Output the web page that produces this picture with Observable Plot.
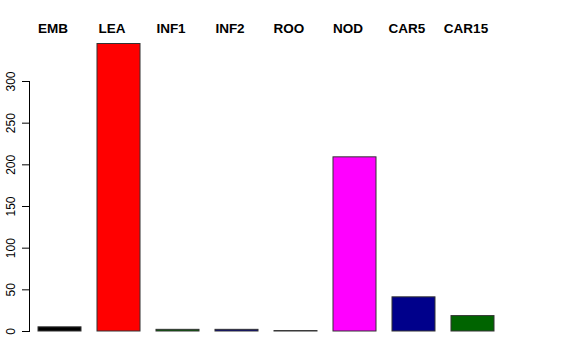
<!DOCTYPE html>
<html>
<head>
<meta charset="utf-8">
<script src="https://cdn.jsdelivr.net/npm/d3@7"></script>
<script src="https://cdn.jsdelivr.net/npm/@observablehq/plot@0.6"></script>
<style>
  body { margin: 0; background: #fff; }
  svg { font-family: "Liberation Sans", Arial, sans-serif; }
</style>
</head>
<body>
<div id="chart"></div>
<script>
const categories = ["EMB", "LEA", "INF1", "INF2", "ROO", "NOD", "CAR5", "CAR15"];
const values = [5, 345, 2, 2, 0.5, 209, 41, 18.5];
const colors = ["#000000", "#FF0000", "#006400", "#00008B", "#000000", "#FF00FF", "#00008B", "#006400"];
const yTicks = [0, 50, 100, 150, 200, 250, 300];

const data = categories.map((c, i) => ({cat: c, value: values[i], color: colors[i]}));

const chart = Plot.plot({
  width: 576,
  height: 360,
  marginTop: 81,
  marginBottom: 29,
  marginLeft: 29,
  marginRight: 82,
  x: {domain: categories, range: [38, 494], round: false, paddingInner: 0.271, paddingOuter: 0, axis: null},
  y: {domain: [0, 300], axis: null},
  marks: [
    Plot.barY(data, {x: "cat", y: "value", fill: "color", stroke: "#333", strokeWidth: 1}),
    Plot.text(data, {x: "cat", frameAnchor: "top", text: "cat", dx: -7, dy: -58, fontWeight: "bold", fontSize: 13.5, fill: "#000"}),
    Plot.frame({anchor: "left", stroke: "#000"}),
    Plot.axisY({ticks: yTicks, anchor: "left", tickSize: 7, tickPadding: 8, tickRotate: -90, fontSize: 12, label: null, stroke: "#000", color: "#000"})
  ]
});
document.getElementById("chart").appendChild(chart);
</script>
</body>
</html>
